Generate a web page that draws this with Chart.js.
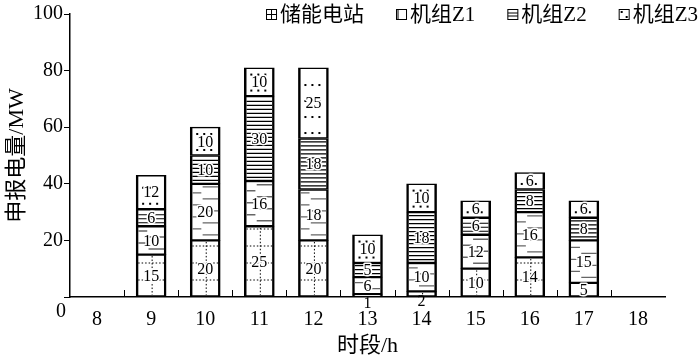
<!DOCTYPE html>
<html>
<head>
<meta charset="utf-8">
<script src="https://cdn.jsdelivr.net/npm/chart.js@4.4.0/dist/chart.umd.min.js"></script>
<style>
  html, body { margin: 0; padding: 0; background: #fff; }
  #wrap { width: 700px; height: 361px; }
</style>
</head>
<body>
<div id="wrap"><canvas id="chart"></canvas></div>
<script>
// data
const hours = ['8', '9', '10', '11', '12', '13', '14', '15', '16', '17', '18'];
const storage = [null, 15, 20, 25, 20, 1, 2, 10, 14, 5, null];
const unitZ1 = [null, 10, 20, 16, 18, 6, 10, 12, 16, 15, null];
const unitZ2 = [null, 6, 10, 30, 18, 5, 18, 6, 8, 8, null];
const unitZ3 = [null, 12, 10, 10, 25, 10, 10, 6, 6, 6, null];
const seriesNames = ['储能电站', '机组Z1', '机组Z2', '机组Z3'];
const yTicks = [0, 20, 40, 60, 80, 100];

const FONT = '"Liberation Serif", "Noto Sans CJK SC", serif';

// hatch fill for one bar segment, kind = dataset index
function drawHatch(ctx, kind, left, top, right, bottom) {
    const w = right - left;
    ctx.strokeStyle = '#000';
    ctx.fillStyle = '#000';
    if (kind === 0) {
        // dotted grid
        ctx.lineWidth = 1;
        ctx.setLineDash([1.5, 2]);
        ctx.beginPath();
        for (let y = bottom - 15; y > top + 1; y -= 17) {
            ctx.moveTo(left, y);
            ctx.lineTo(right, y);
        }
        const cx = left + w / 2 + 1;
        ctx.moveTo(cx, top);
        ctx.lineTo(cx, bottom);
        ctx.stroke();
        ctx.setLineDash([]);
    } else if (kind === 1) {
        // short grey dashes, alternating sides
        ctx.strokeStyle = '#666';
        ctx.lineWidth = 1.4;
        ctx.beginPath();
        let k = 0;
        for (let y = bottom - 4; y > top + 1; y -= 6) {
            if (k % 2 === 0) {
                ctx.moveTo(left + w * 0.4, y);
                ctx.lineTo(right, y);
            } else {
                ctx.moveTo(left, y);
                ctx.lineTo(left + w * 0.35, y);
            }
            k++;
        }
        ctx.stroke();
    } else if (kind === 2) {
        // dense horizontal lines
        ctx.lineWidth = 1.2;
        ctx.beginPath();
        for (let y = bottom - 2; y > top; y -= 4) {
            ctx.moveTo(left, y);
            ctx.lineTo(right, y);
        }
        ctx.stroke();
    } else {
        // dots
        for (let y = bottom - 4; y > top + 1; y -= 16) {
            for (let x = left + 4; x < right - 1; x += 7) {
                ctx.fillRect(x, y - 1, 2, 2);
            }
        }
    }
}

const hatchPlugin = {
    id: 'hatch',
    afterDatasetDraw(chart, args) {
        const ctx = chart.ctx;
        const values = chart.data.datasets[args.index].data;
        args.meta.data.forEach((bar, i) => {
            if (values[i] == null) return;
            const p = bar.getProps(['x', 'y', 'base', 'width'], true);
            const left = p.x - p.width / 2 + 2;
            const right = p.x + p.width / 2 - 2;
            const top = Math.min(p.y, p.base) + 1.5;
            const bottom = Math.max(p.y, p.base) - 1.5;
            if (bottom - top < 1) return;
            ctx.save();
            ctx.beginPath();
            ctx.rect(left, top, right - left, bottom - top);
            ctx.clip();
            drawHatch(ctx, args.index, left, top, right, bottom);
            ctx.restore();
        });
    },
    afterDatasetsDraw(chart) {
        // value labels in the middle of each segment
        const ctx = chart.ctx;
        ctx.save();
        ctx.font = '16px ' + FONT;
        ctx.textAlign = 'center';
        ctx.textBaseline = 'middle';
        ctx.lineJoin = 'round';
        chart.data.datasets.forEach((ds, di) => {
            chart.getDatasetMeta(di).data.forEach((bar, i) => {
                const v = ds.data[i];
                if (v == null) return;
                const p = bar.getProps(['x', 'y', 'base'], true);
                let cy = (p.y + p.base) / 2;
                if (v <= 2) cy += 7;
                if (v > 2) {
                    ctx.strokeStyle = '#fff';
                    ctx.lineWidth = 3;
                    ctx.strokeText(String(v), p.x, cy + 1);
                }
                ctx.fillStyle = '#000';
                ctx.fillText(String(v), p.x, cy + 1);
            });
        });
        ctx.restore();
    },
    afterDraw(chart) {
        const ctx = chart.ctx;
        const xs = chart.scales.x;
        const area = chart.chartArea;
        ctx.save();
        // small inward ticks between hours
        ctx.strokeStyle = '#000';
        ctx.lineWidth = 1;
        ctx.beginPath();
        for (let i = 0; i < hours.length - 1; i++) {
            const px = Math.round((xs.getPixelForValue(i) + xs.getPixelForValue(i + 1)) / 2) + 0.5;
            ctx.moveTo(px, area.bottom);
            ctx.lineTo(px, area.bottom - 7);
        }
        ctx.stroke();

        // the 0 of the y axis sits down in the hour row
        ctx.font = '20px ' + FONT;
        ctx.fillStyle = '#000';
        ctx.textAlign = 'center';
        ctx.textBaseline = 'middle';
        ctx.fillText('0', 61, 312);

        // legend
        ctx.font = '21px ' + FONT;
        ctx.textAlign = 'left';
        let x = 698;
        const y = 14;
        const pos = [];
        for (let k = seriesNames.length - 1; k >= 0; k--) {
            const tw = ctx.measureText(seriesNames[k]).width;
            x -= tw;
            const tx = x;
            x -= 14;
            pos[k] = { box: x, text: tx };
            x -= 32;
        }
        seriesNames.forEach((name, k) => {
            const bx = pos[k].box + 0.5;
            const by = y - 5 + 0.5;
            ctx.fillStyle = '#000';
            ctx.fillText(name, pos[k].text, y + 1);
            ctx.lineWidth = 1;
            ctx.strokeRect(bx, by, 10, 10);
            ctx.beginPath();
            if (k === 0) {
                ctx.moveTo(bx + 5, by);
                ctx.lineTo(bx + 5, by + 10);
                ctx.moveTo(bx, by + 5);
                ctx.lineTo(bx + 10, by + 5);
            } else if (k === 1) {
                ctx.moveTo(bx + 1.5, by);
                ctx.lineTo(bx + 1.5, by + 10);
            } else if (k === 2) {
                ctx.moveTo(bx, by + 3.5);
                ctx.lineTo(bx + 10, by + 3.5);
                ctx.moveTo(bx, by + 6.5);
                ctx.lineTo(bx + 10, by + 6.5);
            }
            ctx.stroke();
            if (k === 3) {
                ctx.fillRect(bx + 1.5, by + 1.5, 2, 2);
                ctx.fillRect(bx + 6.5, by + 6.5, 2, 2);
            }
        });
        ctx.restore();
    }
};

const seriesData = [storage, unitZ1, unitZ2, unitZ3];

new Chart(document.getElementById('chart').getContext('2d'), {
    type: 'bar',
    data: {
        labels: hours,
        datasets: seriesData.map((d, k) => ({
            label: seriesNames[k],
            data: d,
            backgroundColor: '#fff',
            borderColor: '#000',
            borderWidth: { left: 2.5, right: 2.5, top: 1.5, bottom: 1.5 },
            borderSkipped: false,
            barThickness: 30,
        })),
    },
    options: {
        responsive: true,
        maintainAspectRatio: false,
        animation: false,
        layout: { padding: { top: 14, right: 35, left: 0, bottom: 0 } },
        plugins: {
            legend: { display: false },
            tooltip: { enabled: false },
        },
        scales: {
            x: {
                stacked: true,
                grid: { display: false },
                border: { display: true, color: '#000', width: 1.5 },
                ticks: {
                    color: '#000',
                    font: { family: FONT, size: 20 },
                    padding: 3,
                    maxRotation: 0,
                },
                title: {
                    display: true,
                    text: '时段/h',
                    color: '#000',
                    font: { family: FONT, size: 22 },
                    padding: { top: 0, bottom: 2 },
                },
                afterFit(scale) { scale.height = 64; },
            },
            y: {
                stacked: true,
                min: 0,
                max: 100,
                afterBuildTicks(scale) { scale.ticks = yTicks.map(v => ({ value: v })); },
                grid: { drawOnChartArea: false, color: '#000', tickLength: 6, lineWidth: 1 },
                border: { display: true, color: '#000', width: 1.5 },
                ticks: {
                    color: '#000',
                    font: { family: FONT, size: 20 },
                    padding: 1,
                    callback: v => (v === 0 ? '' : v),
                },
                title: {
                    display: true,
                    text: '申报电量/MW',
                    color: '#000',
                    font: { family: FONT, size: 22 },
                    padding: { top: 4, bottom: 0 },
                },
                afterFit(scale) { scale.width = 70; },
            },
        },
    },
    plugins: [hatchPlugin],
});
</script>
</body>
</html>
